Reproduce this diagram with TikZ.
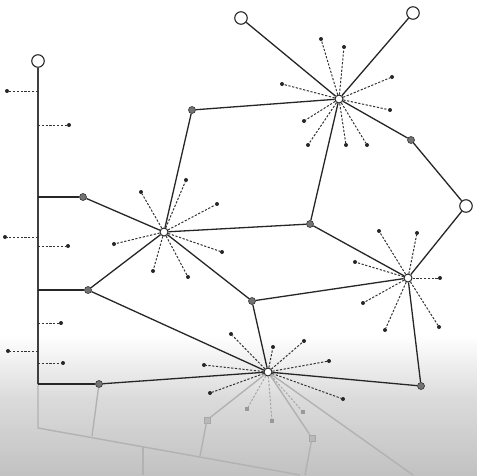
\documentclass[tikz,border=0pt]{standalone}
\begin{document}
\begin{tikzpicture}[x=1pt,y=-1pt,
 edge/.style={line width=1.3pt, draw=black!85},
 spoke/.style={line width=1pt, draw=black!80, dash pattern=on 2.2pt off 1.6pt},
 ghostspoke/.style={line width=1pt, draw=black!35, dash pattern=on 2.2pt off 1.6pt},
 ghost/.style={line width=1.4pt, draw=black!30},
 tip/.style={circle, fill=black!85, inner sep=0pt, minimum size=4pt},
 ghosttip/.style={rectangle, fill=black!40, inner sep=0pt, minimum size=4pt},
 hub/.style={circle, draw=black!85, fill=white, line width=1pt, inner sep=0pt, minimum size=8pt},
 term/.style={circle, draw=black!85, fill=white, line width=1.1pt, inner sep=0pt, minimum size=12.5pt},
 knot/.style={circle, draw=black!80, fill=black!55, line width=0.6pt, inner sep=0pt, minimum size=7pt},
 ghostknot/.style={rectangle, draw=black!35, fill=gray!55, line width=0.5pt, inner sep=0pt, minimum size=6pt},
]
\useasboundingbox (0,0) rectangle (477,475);
\fill[white] (0,0) rectangle (477,336);
\shade[top color=white, bottom color=gray!28] (0,335) rectangle (477,398);
\shade[top color=gray!28, bottom color=gray!48] (0,397.5) rectangle (477,475);

% reflection (faint)
\coordinate (vb) at (38,384);
\coordinate (r0) at (38,428);
\coordinate (r1) at (300,475);
\coordinate (r2) at (92,436);
\coordinate (r3) at (413,475);
\coordinate (r4) at (200,456);
\coordinate (r5) at (305,475);
\coordinate (r6) at (143,446);
\coordinate (r7) at (143,475);
\node[ghostknot] (g1) at (207,420) {};
\node[ghostknot] (g2) at (312,438) {};
\node[ghosttip] (g3) at (247,409) {};
\node[ghosttip] (g4) at (272,421) {};
\node[ghosttip] (g5) at (303,412) {};

% terminals, hubs, knots
\node[term] (L0) at (38,61) {};
\node[term] (T1) at (241,18) {};
\node[term] (T2) at (413,13) {};
\node[term] (T3) at (466,206) {};
\node[hub] (A) at (339,99) {};
\node[hub] (B) at (164,232) {};
\node[hub] (C) at (408,278) {};
\node[hub] (D) at (268,372) {};
\node[knot] (k1) at (83,197) {};
\node[knot] (k2) at (88,290) {};
\node[knot] (k3) at (99,384) {};
\node[knot] (k4) at (192,110) {};
\node[knot] (k5) at (411,140) {};
\node[knot] (k6) at (310,224) {};
\node[knot] (k7) at (252,301) {};
\node[knot] (k8) at (421,386) {};

\draw[ghost] (vb) -- (r0) -- (r1);
\draw[ghost] (k3) -- (r2);
\draw[ghost] (D) -- (g1);
\draw[ghost] (D) -- (g2);
\draw[ghost] (D) -- (r3);
\draw[ghost] (g1) -- (r4);
\draw[ghost] (g2) -- (r5);
\draw[ghost] (r6) -- (r7);
\draw[ghostspoke] (D) -- (g3);
\draw[ghostspoke] (D) -- (g4);
\draw[ghostspoke] (D) -- (g5);

% main edges
\draw[edge, draw=black!75] (L0) -- (vb);
\draw[edge] (A) -- (T1);
\draw[edge] (A) -- (T2);
\draw[edge] (A) -- (k4);
\draw[edge] (A) -- (k5);
\draw[edge] (A) -- (k6);
\draw[edge] (k5) -- (T3);
\draw[edge] (T3) -- (C);
\draw[edge] (k4) -- (B);
\draw[edge] (B) -- (k6);
\draw[edge] (k6) -- (C);
\draw[edge] (B) -- (k1);
\draw[edge] (B) -- (k2);
\draw[edge] (B) -- (k7);
\draw[edge] (k7) -- (C);
\draw[edge] (k7) -- (D);
\draw[edge] (k2) -- (D);
\draw[edge] (D) -- (k3);
\draw[edge] (D) -- (k8);
\draw[edge] (C) -- (k8);
\coordinate (v1) at (38,197);
\coordinate (v2) at (38,290);
\draw[edge] (v1) -- (k1);
\draw[edge] (v2) -- (k2);
\draw[edge] (vb) -- (k3);

% dashed branches off the vertical line
\foreach \yy/\xx [count=\i] in {91/7, 125/69, 237/5, 246/68, 323/61, 351/8, 363/63}{
  \coordinate (s\i) at (38,\yy);
  \node[tip] (b\i) at (\xx,\yy) {};
  \draw[spoke] (s\i) -- (b\i);
}

% spokes of hub A
\foreach \xx/\yy [count=\i] in {321/39, 344/47, 392/77, 282/84, 390/110, 304/121, 308/145, 346/145, 367/145}{
  \node[tip] (a\i) at (\xx,\yy) {};
  \draw[spoke] (A) -- (a\i);
}
% spokes of hub B
\foreach \xx/\yy [count=\i] in {186/180, 141/192, 217/204, 114/244, 222/252, 153/271, 188/277}{
  \node[tip] (bb\i) at (\xx,\yy) {};
  \draw[spoke] (B) -- (bb\i);
}
% spokes of hub C
\foreach \xx/\yy [count=\i] in {379/231, 417/233, 355/262, 440/278, 363/303, 385/330, 439/327}{
  \node[tip] (c\i) at (\xx,\yy) {};
  \draw[spoke] (C) -- (c\i);
}
% spokes of hub D
\foreach \xx/\yy [count=\i] in {231/334, 273/347, 304/341, 204/365, 329/361, 210/393, 343/399}{
  \node[tip] (d\i) at (\xx,\yy) {};
  \draw[spoke] (D) -- (d\i);
}
\end{tikzpicture}
\end{document}
